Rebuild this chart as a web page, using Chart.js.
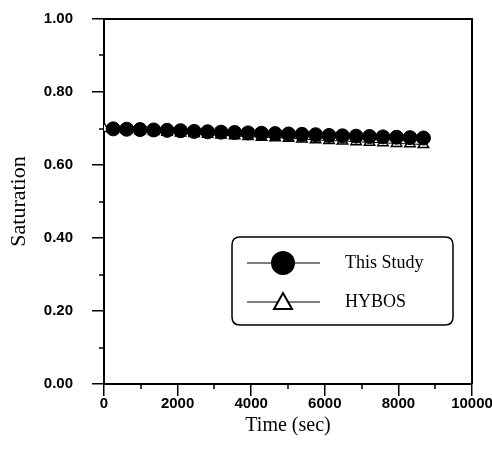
<!DOCTYPE html>
<html>
<head>
<meta charset="utf-8">
<script src="https://cdn.jsdelivr.net/npm/chart.js@4/dist/chart.umd.min.js"></script>
<style>
  html, body { margin: 0; padding: 0; background: #fff; }
  #wrap { width: 492px; height: 452px; position: relative; }
</style>
</head>
<body>
<div id="wrap"><canvas id="c" width="492" height="452"></canvas></div>
<script>
// ---- data ----
const studyTimes = [250, 615, 980, 1350, 1715, 2080, 2450, 2815, 3180, 3550, 3915, 4280, 4650, 5015, 5380, 5750, 6115, 6480, 6850, 7215, 7580, 7950, 8315, 8680];
const studySat   = [0.699, 0.698, 0.697, 0.696, 0.695, 0.694, 0.692, 0.691, 0.690, 0.689, 0.688, 0.687, 0.686, 0.685, 0.684, 0.683, 0.681, 0.680, 0.679, 0.678, 0.677, 0.676, 0.675, 0.674];
const hybosTimes = [0, 250, 615, 980, 1350, 1715, 2080, 2450, 2815, 3180, 3550, 3915, 4280, 4650, 5015, 5380, 5750, 6115, 6480, 6850, 7215, 7580, 7950, 8315, 8680];
const hybosSat   = [0.700, 0.698, 0.696, 0.694, 0.692, 0.690, 0.688, 0.686, 0.684, 0.682, 0.680, 0.678, 0.676, 0.675, 0.673, 0.671, 0.669, 0.667, 0.666, 0.664, 0.662, 0.661, 0.659, 0.658, 0.656];
const seriesNames = ['This Study', 'HYBOS'];
const xTickLabels = [0, 2000, 4000, 6000, 8000, 10000];
const yTickLabels = [0.00, 0.20, 0.40, 0.60, 0.80, 1.00];
const xMinorTicks = [1000, 3000, 5000, 7000, 9000];
const yMinorTicks = [0.1, 0.3, 0.5, 0.7, 0.9];
const xTitle = 'Time (sec)';
const yTitle = 'Saturation';

const toPoints = (xs, ys) => xs.map((x, i) => ({ x: x, y: ys[i] }));

const tickFont = { family: "'Liberation Sans Narrow', 'Arial Narrow', 'Liberation Sans', Arial, sans-serif", size: 15, weight: 'bold' };
const serif = "'Liberation Serif', 'Times New Roman', Times, serif";

const frameAndExtras = {
  id: 'frameAndExtras',
  afterDraw(chart) {
    const ctx = chart.ctx;
    const a = chart.chartArea;
    const xs = chart.scales.x, ys = chart.scales.y;
    ctx.save();
    ctx.strokeStyle = '#000';
    // top & right frame
    ctx.lineWidth = 2;
    ctx.beginPath();
    ctx.moveTo(a.left, a.top);
    ctx.lineTo(a.right, a.top);
    ctx.lineTo(a.right, a.bottom);
    ctx.stroke();
    // minor ticks
    ctx.lineWidth = 1.5;
    ctx.beginPath();
    xMinorTicks.forEach(v => {
      const px = Math.round(xs.getPixelForValue(v));
      ctx.moveTo(px, a.bottom);
      ctx.lineTo(px, a.bottom + 5);
    });
    yMinorTicks.forEach(v => {
      const py = Math.round(ys.getPixelForValue(v));
      ctx.moveTo(a.left - 5, py);
      ctx.lineTo(a.left, py);
    });
    ctx.stroke();

    // legend box
    const bx = a.left + 128, by = a.top + 218, bw = 221, bh = 88, r = 8;
    ctx.lineWidth = 1.5;
    ctx.beginPath();
    ctx.moveTo(bx + r, by);
    ctx.lineTo(bx + bw - r, by);
    ctx.quadraticCurveTo(bx + bw, by, bx + bw, by + r);
    ctx.lineTo(bx + bw, by + bh - r);
    ctx.quadraticCurveTo(bx + bw, by + bh, bx + bw - r, by + bh);
    ctx.lineTo(bx + r, by + bh);
    ctx.quadraticCurveTo(bx, by + bh, bx, by + bh - r);
    ctx.lineTo(bx, by + r);
    ctx.quadraticCurveTo(bx, by, bx + r, by);
    ctx.stroke();

    const lx1 = bx + 15, lx2 = bx + 88, mx = bx + 51;
    const rowY = [by + 26, by + 65];
    ctx.lineWidth = 1.2;
    rowY.forEach(y => {
      ctx.beginPath();
      ctx.moveTo(lx1, y);
      ctx.lineTo(lx2, y);
      ctx.stroke();
    });
    // circle marker
    ctx.fillStyle = '#000';
    ctx.beginPath();
    ctx.arc(mx, rowY[0], 12, 0, Math.PI * 2);
    ctx.fill();
    // triangle marker
    ctx.fillStyle = '#fff';
    ctx.lineWidth = 2;
    ctx.beginPath();
    ctx.moveTo(mx, rowY[1] - 9);
    ctx.lineTo(mx + 9, rowY[1] + 7);
    ctx.lineTo(mx - 9, rowY[1] + 7);
    ctx.closePath();
    ctx.fill();
    ctx.stroke();

    ctx.fillStyle = '#000';
    ctx.font = '18px ' + serif;
    ctx.textAlign = 'left';
    ctx.textBaseline = 'middle';
    ctx.fillText(seriesNames[0], bx + 113, rowY[0]);
    ctx.fillText(seriesNames[1], bx + 113, rowY[1]);
    ctx.restore();
  }
};

new Chart(document.getElementById('c'), {
  type: 'scatter',
  data: {
    datasets: [
      {
        label: seriesNames[0],
        data: toPoints(studyTimes, studySat),
        showLine: true,
        borderColor: '#000',
        borderWidth: 1,
        pointStyle: 'circle',
        pointRadius: 7,
        pointBackgroundColor: '#000',
        pointBorderColor: '#000',
        pointBorderWidth: 1,
        order: 0
      },
      {
        label: seriesNames[1],
        data: toPoints(hybosTimes, hybosSat),
        showLine: true,
        borderColor: '#000',
        borderWidth: 1,
        pointStyle: 'triangle',
        pointRadius: 6,
        pointBackgroundColor: '#fff',
        pointBorderColor: '#000',
        pointBorderWidth: 1.5,
        order: 1
      }
    ]
  },
  options: {
    responsive: false,
    animation: false,
    layout: { padding: { top: 19, right: 20, left: 0, bottom: 0 } },
    plugins: { legend: { display: false }, tooltip: { enabled: false } },
    scales: {
      x: {
        type: 'linear',
        min: 0, max: 10000,
        afterBuildTicks(scale) { scale.ticks = xTickLabels.map(v => ({ value: v })); },
        afterFit(scale) { scale.height = 68; scale.paddingLeft = 0; scale.paddingRight = 0; },
        ticks: { color: '#000', font: tickFont, padding: -1, maxRotation: 0, callback: v => String(v) },
        grid: { drawOnChartArea: false, drawTicks: true, tickLength: 12, color: '#000', lineWidth: 1.5 },
        border: { display: true, color: '#000', width: 2 },
        title: { display: true, text: xTitle, color: '#000', font: { family: serif, size: 20 }, padding: { top: 0, bottom: 14 } }
      },
      y: {
        type: 'linear',
        min: 0, max: 1,
        afterBuildTicks(scale) { scale.ticks = yTickLabels.map(v => ({ value: v })); },
        afterFit(scale) { scale.width = 104; scale.paddingTop = 0; scale.paddingBottom = 0; },
        ticks: { color: '#000', font: tickFont, padding: 19, callback: v => Number(v).toFixed(2) },
        grid: { drawOnChartArea: false, drawTicks: true, tickLength: 12, color: '#000', lineWidth: 1.5 },
        border: { display: true, color: '#000', width: 2 },
        title: { display: true, text: yTitle, color: '#000', font: { family: serif, size: 22 }, padding: { top: 6, bottom: 0 } }
      }
    }
  },
  plugins: [frameAndExtras]
});
</script>
</body>
</html>
